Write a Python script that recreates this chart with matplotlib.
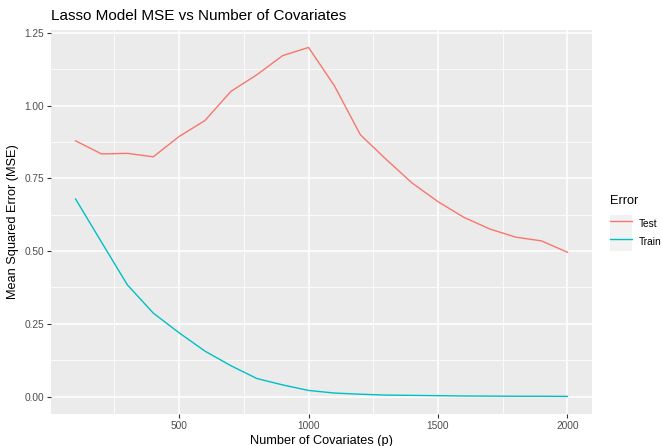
import numpy as np
import matplotlib
matplotlib.use("Agg")
import matplotlib.pyplot as plt
from matplotlib.ticker import MultipleLocator, FixedLocator
from matplotlib.patches import Rectangle
from matplotlib.lines import Line2D
from matplotlib.legend_handler import HandlerTuple

plt.rcParams['font.family'] = ['Liberation Sans', 'DejaVu Sans']

# data
p = [100, 200, 300, 400, 500, 600, 700, 800, 900, 1000,
     1100, 1200, 1300, 1400, 1500, 1600, 1700, 1800, 1900, 2000]
test_mse = [0.879, 0.834, 0.836, 0.824, 0.894, 0.949, 1.049, 1.106, 1.172, 1.200,
            1.068, 0.900, 0.815, 0.734, 0.670, 0.616, 0.576, 0.548, 0.535, 0.496]
train_mse = [0.679, 0.531, 0.384, 0.287, 0.219, 0.156, 0.106, 0.062, 0.040, 0.021,
             0.012, 0.008, 0.005, 0.004, 0.003, 0.002, 0.0015, 0.001, 0.001, 0.0005]
series = ['Test', 'Train']
colors = ['#F8766D', '#00BFC4']

fig = plt.figure(figsize=(6.62, 4.46), dpi=100)
ax = fig.add_axes([51/662, 1-414/446, (592-51)/662, (414-30)/446])
ax.set_facecolor('#EBEBEB')

ax.plot(p, test_mse, color=colors[0], lw=1.0)
ax.plot(p, train_mse, color=colors[1], lw=1.0)

ax.set_xlim(5, 2095)
ax.set_ylim(-0.06, 1.26)
ax.xaxis.set_major_locator(FixedLocator([500, 1000, 1500, 2000]))
ax.xaxis.set_minor_locator(FixedLocator([250, 750, 1250, 1750]))
ax.yaxis.set_major_locator(MultipleLocator(0.25))
ax.yaxis.set_minor_locator(FixedLocator([0.125, 0.375, 0.625, 0.875, 1.125]))
ax.yaxis.set_major_formatter(plt.FuncFormatter(lambda v, _: '%.2f' % v))

ax.grid(which='major', color='white', lw=1.1)
ax.grid(which='minor', color='white', lw=0.55)
ax.set_axisbelow(True)
for s in ax.spines.values():
    s.set_visible(False)
ax.tick_params(which='major', length=3, width=0.8, color='#333333',
               labelcolor='#4D4D4D', labelsize=7.3, pad=2)
ax.tick_params(which='minor', length=0)

ax.set_xlabel('Number of Covariates (p)', fontsize=9.2, labelpad=3)
ax.set_ylabel('Mean Squared Error (MSE)', fontsize=9.2, labelpad=4)
ax.set_title('Lasso Model MSE vs Number of Covariates', fontsize=11, loc='left', pad=7)

# legend keys with ggplot-like grey key background
handles = [(Rectangle((0, 0), 1, 1, facecolor='#F2F2F2', edgecolor='none'),
            Line2D([], [], color=c, lw=1.0)) for c in colors]
leg = fig.legend(handles, series, title='Error', loc='upper left',
                 bbox_to_anchor=(610/662, 1-195/446), frameon=False,
                 fontsize=7.3, title_fontsize=9.2, borderpad=0, borderaxespad=0,
                 handlelength=2.2, handleheight=2.3, labelspacing=0,
                 handletextpad=0.6,
                 handler_map={tuple: HandlerTuple(ndivide=1, pad=0)})
leg._legend_box.align = 'left'
leg._legend_box.sep = 6

fig.savefig('out.png', dpi=100)
